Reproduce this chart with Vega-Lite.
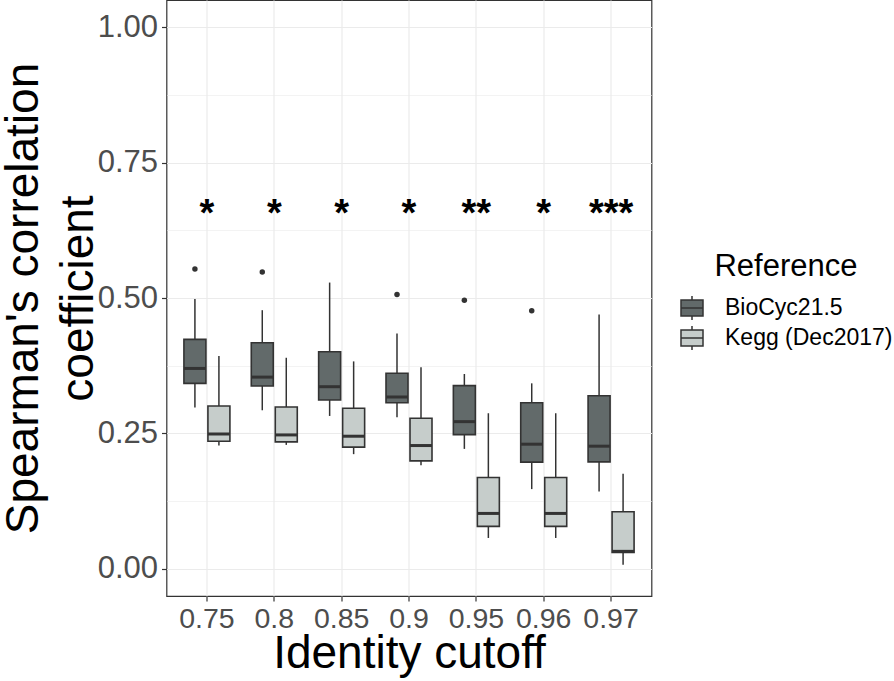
{
  "$schema": "https://vega.github.io/schema/vega-lite/v6.json",
  "autosize": {"type": "none"},
  "width": 485,
  "height": 596,
  "padding": {"left": 166.5, "top": 0, "right": 242.5, "bottom": 85},
  "background": "white",
  "config": {
    "font": "Liberation Sans",
    "view": {"stroke": "#333333", "strokeWidth": 1.2},
    "axis": {"gridColor": "#ebebeb", "domain": false, "tickColor": "#333333", "tickSize": 5, "tickWidth": 1.2}
  },
  "datasets": {
    "stats": [
      {"cutoff": "0.75", "ref": "BioCyc21.5", "lower": 0.298, "q1": 0.3425, "median": 0.370, "q3": 0.4236, "upper": 0.498},
      {"cutoff": "0.75", "ref": "Kegg (Dec2017)", "lower": 0.2277, "q1": 0.2357, "median": 0.249, "q3": 0.3007, "upper": 0.3928},
      {"cutoff": "0.8", "ref": "BioCyc21.5", "lower": 0.2928, "q1": 0.3376, "median": 0.354, "q3": 0.4173, "upper": 0.4775},
      {"cutoff": "0.8", "ref": "Kegg (Dec2017)", "lower": 0.2289, "q1": 0.2344, "median": 0.2473, "q3": 0.2989, "upper": 0.3897},
      {"cutoff": "0.85", "ref": "BioCyc21.5", "lower": 0.2823, "q1": 0.3118, "median": 0.3363, "q3": 0.4007, "upper": 0.5285},
      {"cutoff": "0.85", "ref": "Kegg (Dec2017)", "lower": 0.2118, "q1": 0.2247, "median": 0.2449, "q3": 0.2965, "upper": 0.383},
      {"cutoff": "0.9", "ref": "BioCyc21.5", "lower": 0.2799, "q1": 0.3068, "median": 0.3173, "q3": 0.361, "upper": 0.4346},
      {"cutoff": "0.9", "ref": "Kegg (Dec2017)", "lower": 0.1915, "q1": 0.1994, "median": 0.2277, "q3": 0.278, "upper": 0.372},
      {"cutoff": "0.95", "ref": "BioCyc21.5", "lower": 0.2215, "q1": 0.2479, "median": 0.2718, "q3": 0.3382, "upper": 0.3597},
      {"cutoff": "0.95", "ref": "Kegg (Dec2017)", "lower": 0.0571, "q1": 0.0785, "median": 0.1024, "q3": 0.1687, "upper": 0.2873},
      {"cutoff": "0.96", "ref": "BioCyc21.5", "lower": 0.1473, "q1": 0.197, "median": 0.2302, "q3": 0.3068, "upper": 0.3425},
      {"cutoff": "0.96", "ref": "Kegg (Dec2017)", "lower": 0.0571, "q1": 0.0785, "median": 0.1024, "q3": 0.1687, "upper": 0.2873},
      {"cutoff": "0.97", "ref": "BioCyc21.5", "lower": 0.1429, "q1": 0.1976, "median": 0.2265, "q3": 0.3197, "upper": 0.4696},
      {"cutoff": "0.97", "ref": "Kegg (Dec2017)", "lower": 0.0079, "q1": 0.0306, "median": 0.0324, "q3": 0.1055, "upper": 0.1755}
    ],
    "outliers": [
      {"cutoff": "0.75", "ref": "BioCyc21.5", "value": 0.5536},
      {"cutoff": "0.8", "ref": "BioCyc21.5", "value": 0.548},
      {"cutoff": "0.9", "ref": "BioCyc21.5", "value": 0.5064},
      {"cutoff": "0.95", "ref": "BioCyc21.5", "value": 0.496},
      {"cutoff": "0.96", "ref": "BioCyc21.5", "value": 0.4763}
    ],
    "sig": [
      {"cutoff": "0.75", "label": "*"},
      {"cutoff": "0.8", "label": "*"},
      {"cutoff": "0.85", "label": "*"},
      {"cutoff": "0.9", "label": "*"},
      {"cutoff": "0.95", "label": "**"},
      {"cutoff": "0.96", "label": "*"},
      {"cutoff": "0.97", "label": "***"}
    ]
  },
  "encoding": {
    "x": {
      "field": "cutoff", "type": "nominal",
      "sort": ["0.75", "0.8", "0.85", "0.9", "0.95", "0.96", "0.97"],
      "scale": {"paddingInner": 0, "paddingOuter": 0.1},
      "axis": {
        "title": "Identity cutoff", "titleFontSize": 46, "titleFontWeight": "normal", "titleColor": "#000000",
        "titleY": 71, "titleBaseline": "alphabetic",
        "labelFontSize": 28.5, "labelColor": "#4d4d4d", "labelAngle": 0, "labelPadding": 3, "labelOverlap": false,
        "grid": true, "gridWidth": 1.2
      }
    }
  },
  "layer": [
    {
      "data": {"name": "stats"},
      "mark": {"type": "rule", "color": "#333333", "strokeWidth": 1.5},
      "encoding": {
        "xOffset": {"field": "ref", "type": "nominal", "scale": {"paddingInner": 0.0833, "paddingOuter": 0.445}},
        "y": {
          "field": "lower", "type": "quantitative",
          "scale": {"domain": [-0.05, 1.05], "nice": false, "zero": false},
          "axis": {
            "title": ["Spearman's correlation", "coefficient"],
            "titleFontSize": 46, "titleFontWeight": "normal", "titleColor": "#000000",
            "titleLineHeight": 55, "titleAngle": 270, "titleBaseline": "top", "titleAlign": "center",
            "titleX": -165, "titleY": 298,
            "values": [0, 0.125, 0.25, 0.375, 0.5, 0.625, 0.75, 0.875, 1],
            "labelExpr": "abs(datum.value*4 - round(datum.value*4)) < 0.001 ? format(datum.value, '.2f') : ''",
            "labelFontSize": 31, "labelColor": "#4d4d4d", "labelPadding": 4,
            "grid": true,
            "gridWidth": {"condition": {"test": "abs(datum.value*4 - round(datum.value*4)) < 0.001", "value": 1.2}, "value": 0.6},
            "tickOpacity": {"condition": {"test": "abs(datum.value*4 - round(datum.value*4)) < 0.001", "value": 1}, "value": 0}
          }
        },
        "y2": {"field": "upper"}
      }
    },
    {
      "data": {"name": "stats"},
      "mark": {"type": "bar", "stroke": "#333333", "strokeWidth": 1.6},
      "encoding": {
        "xOffset": {"field": "ref", "type": "nominal"},
        "y": {"field": "q3", "type": "quantitative"},
        "y2": {"field": "q1"},
        "color": {
          "field": "ref", "type": "nominal",
          "scale": {"domain": ["BioCyc21.5", "Kegg (Dec2017)"], "range": ["#626a6a", "#c6cdcb"]},
          "legend": {
            "title": "Reference", "orient": "none", "legendX": 512.5, "legendY": 252,
            "titleFontSize": 31, "titleFontWeight": "normal", "titleColor": "#000000",
            "titleAnchor": "middle", "titleAlign": "center", "titlePadding": 12,
            "labelFontSize": 23, "labelColor": "#000000", "labelOffset": 20, "labelLimit": 400,
            "symbolType": "M-0.917,-0.667H0.917V0.667H-0.917Z M-0.917,0H0.917 M0,-0.667V-1 M0,0.667V1",
            "symbolSize": 576, "symbolStrokeColor": "#333333", "symbolStrokeWidth": 1.5,
            "symbolOpacity": 1, "rowPadding": 0, "padding": 0
          }
        }
      }
    },
    {
      "data": {"name": "stats"},
      "mark": {"type": "tick", "color": "#333333", "size": 22, "thickness": 3, "orient": "horizontal", "opacity": 1},
      "encoding": {
        "xOffset": {"field": "ref", "type": "nominal"},
        "y": {"field": "median", "type": "quantitative"}
      }
    },
    {
      "data": {"name": "outliers"},
      "mark": {"type": "point", "filled": true, "color": "#333333", "size": 30, "opacity": 1},
      "encoding": {
        "xOffset": {"field": "ref", "type": "nominal"},
        "y": {"field": "value", "type": "quantitative"}
      }
    },
    {
      "data": {"name": "sig"},
      "mark": {"type": "text", "fontSize": 38, "fontWeight": "bold", "color": "#000000", "baseline": "alphabetic", "align": "center"},
      "encoding": {
        "y": {"datum": 0.633, "type": "quantitative"},
        "text": {"field": "label"}
      }
    }
  ]
}
